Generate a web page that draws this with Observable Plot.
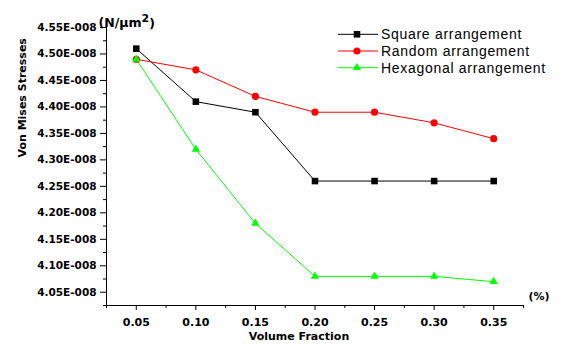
<!DOCTYPE html>
<html><head><meta charset="utf-8">
<script src="https://cdn.jsdelivr.net/npm/d3@7"></script>
<script src="https://cdn.jsdelivr.net/npm/@observablehq/plot@0.6"></script>
<style>body{margin:0;background:#fff} #chart{position:relative;width:562px;height:347px}</style>
</head><body><div id="chart"></div>
<script>
const volumeFraction = [0.05, 0.10, 0.15, 0.20, 0.25, 0.30, 0.35];
const squareValues = [4.51, 4.41, 4.39, 4.26, 4.26, 4.26, 4.26];
const randomValues = [4.49, 4.47, 4.42, 4.39, 4.39, 4.37, 4.34];
const hexagonalValues = [4.49, 4.32, 4.18, 4.08, 4.08, 4.08, 4.07];
const seriesNames = ["Square arrangement", "Random arrangement", "Hexagonal arrangement"];
const seriesColors = ["#000000", "#ff0000", "#00ff00"];
const seriesSymbols = ["square", "circle", "triangle"];
const yTicks = [4.05, 4.10, 4.15, 4.20, 4.25, 4.30, 4.35, 4.40, 4.45, 4.50, 4.55];
const yMinorTicks = [4.025, 4.075, 4.125, 4.175, 4.225, 4.275, 4.325, 4.375, 4.425, 4.475, 4.525];
const xTicks = volumeFraction;
const xMinorTicks = [0.025, 0.075, 0.125, 0.175, 0.225, 0.275, 0.325, 0.375];
const yTitle = "Von Mises Stresses";
const xTitle = "Volume Fraction";
const yUnitBase = "(N/μm";
const yUnitSup = "2";
const xUnit = "(%)";

const seriesValues = [squareValues, randomValues, hexagonalValues];
const rows = [];
seriesNames.forEach((s, i) => volumeFraction.forEach((x, j) => rows.push({series: s, x, y: seriesValues[i][j]})));
const radii = [3.7, 3.6, 3.1];

const bold = {fontWeight: "bold"};
const chart = Plot.plot({
  width: 562, height: 347,
  marginLeft: 106, marginRight: 39, marginTop: 27, marginBottom: 42,
  style: {fontFamily: "'DejaVu Sans', sans-serif", color: "#000", background: "#fff", overflow: "visible"},
  x: {domain: [0.025, 0.375]},
  y: {domain: [4.025, 4.55]},
  color: {domain: seriesNames, range: seriesColors},
  symbol: {domain: seriesNames, range: seriesSymbols},
  marks: [
    Plot.axisY({ticks: yTicks, tickSize: 6, tickPadding: 4, tickFormat: v => v.toFixed(2) + "E-008", fontSize: 10.5, fontWeight: "bold", label: null}),
    Plot.axisY({ticks: yMinorTicks, tickSize: 3, tickFormat: () => "", label: null}),
    Plot.axisX({ticks: xTicks, tickSize: 5, tickPadding: 8, tickFormat: d3.format(".2f"), fontSize: 11, fontWeight: "bold", label: null}),
    Plot.axisX({ticks: xMinorTicks, tickSize: 3, tickFormat: () => "", label: null}),
    Plot.ruleX([0.025], {stroke: "#000"}),
    Plot.ruleY([4.025], {stroke: "#000"}),
    Plot.line(rows, {x: "x", y: "y", z: "series", stroke: "series", strokeWidth: 1}),
    ...seriesNames.map((s, i) => Plot.dot(rows.filter(d => d.series === s), {x: "x", y: "y", symbol: "series", fill: "series", r: radii[i]})),
    Plot.text([yTitle], {frameAnchor: "left", rotate: -90, dx: -84, dy: -9, fontSize: 11, ...bold}),
    Plot.text([xTitle], {frameAnchor: "bottom", dx: -16, dy: 34, fontSize: 11, ...bold}),
    Plot.text([yUnitBase + yUnitSup + ")"], {frameAnchor: "top-left", dx: -8, dy: -9, textAnchor: "start", fontSize: 12.5, ...bold, className: "yunit"}),
    Plot.text([xUnit], {frameAnchor: "bottom-right", dx: 5, dy: -6, textAnchor: "start", fontSize: 11, ...bold})
  ]
});
document.getElementById("chart").appendChild(chart);

const svg = d3.select(chart);
// superscript for unit
svg.selectAll("g.yunit text").each(function() {
  const t = d3.select(this);
  t.text(null);
  t.append("tspan").text(yUnitBase);
  t.append("tspan").attr("dy", "-0.45em").attr("font-size", "11px").text(yUnitSup);
  t.append("tspan").attr("dy", "0.45em").text(")");
});

// legend
const lg = svg.append("g").attr("transform", "translate(338,0)").attr("text-anchor", "start");
seriesNames.forEach((s, i) => {
  const y = 34.3 + 16.7 * i;
  const g = lg.append("g").attr("transform", `translate(0,${y})`);
  g.append("line").attr("x1", 0).attr("x2", 40).attr("y1", 0).attr("y2", 0).attr("stroke", seriesColors[i]).attr("stroke-width", 1);
  const symType = [d3.symbolSquare, d3.symbolCircle, d3.symbolTriangle][i];
  g.append("path").attr("transform", "translate(19,0)").attr("d", d3.symbol(symType, Math.PI * radii[i] * radii[i])()).attr("fill", seriesColors[i]);
  g.append("text").attr("x", 43).attr("y", 5).attr("text-anchor", "start").attr("font-family", "'Liberation Sans', Arial, sans-serif").attr("font-size", 14).attr("letter-spacing", "0.7px").attr("fill", "#000").text(s);
});
</script>
</body></html>
